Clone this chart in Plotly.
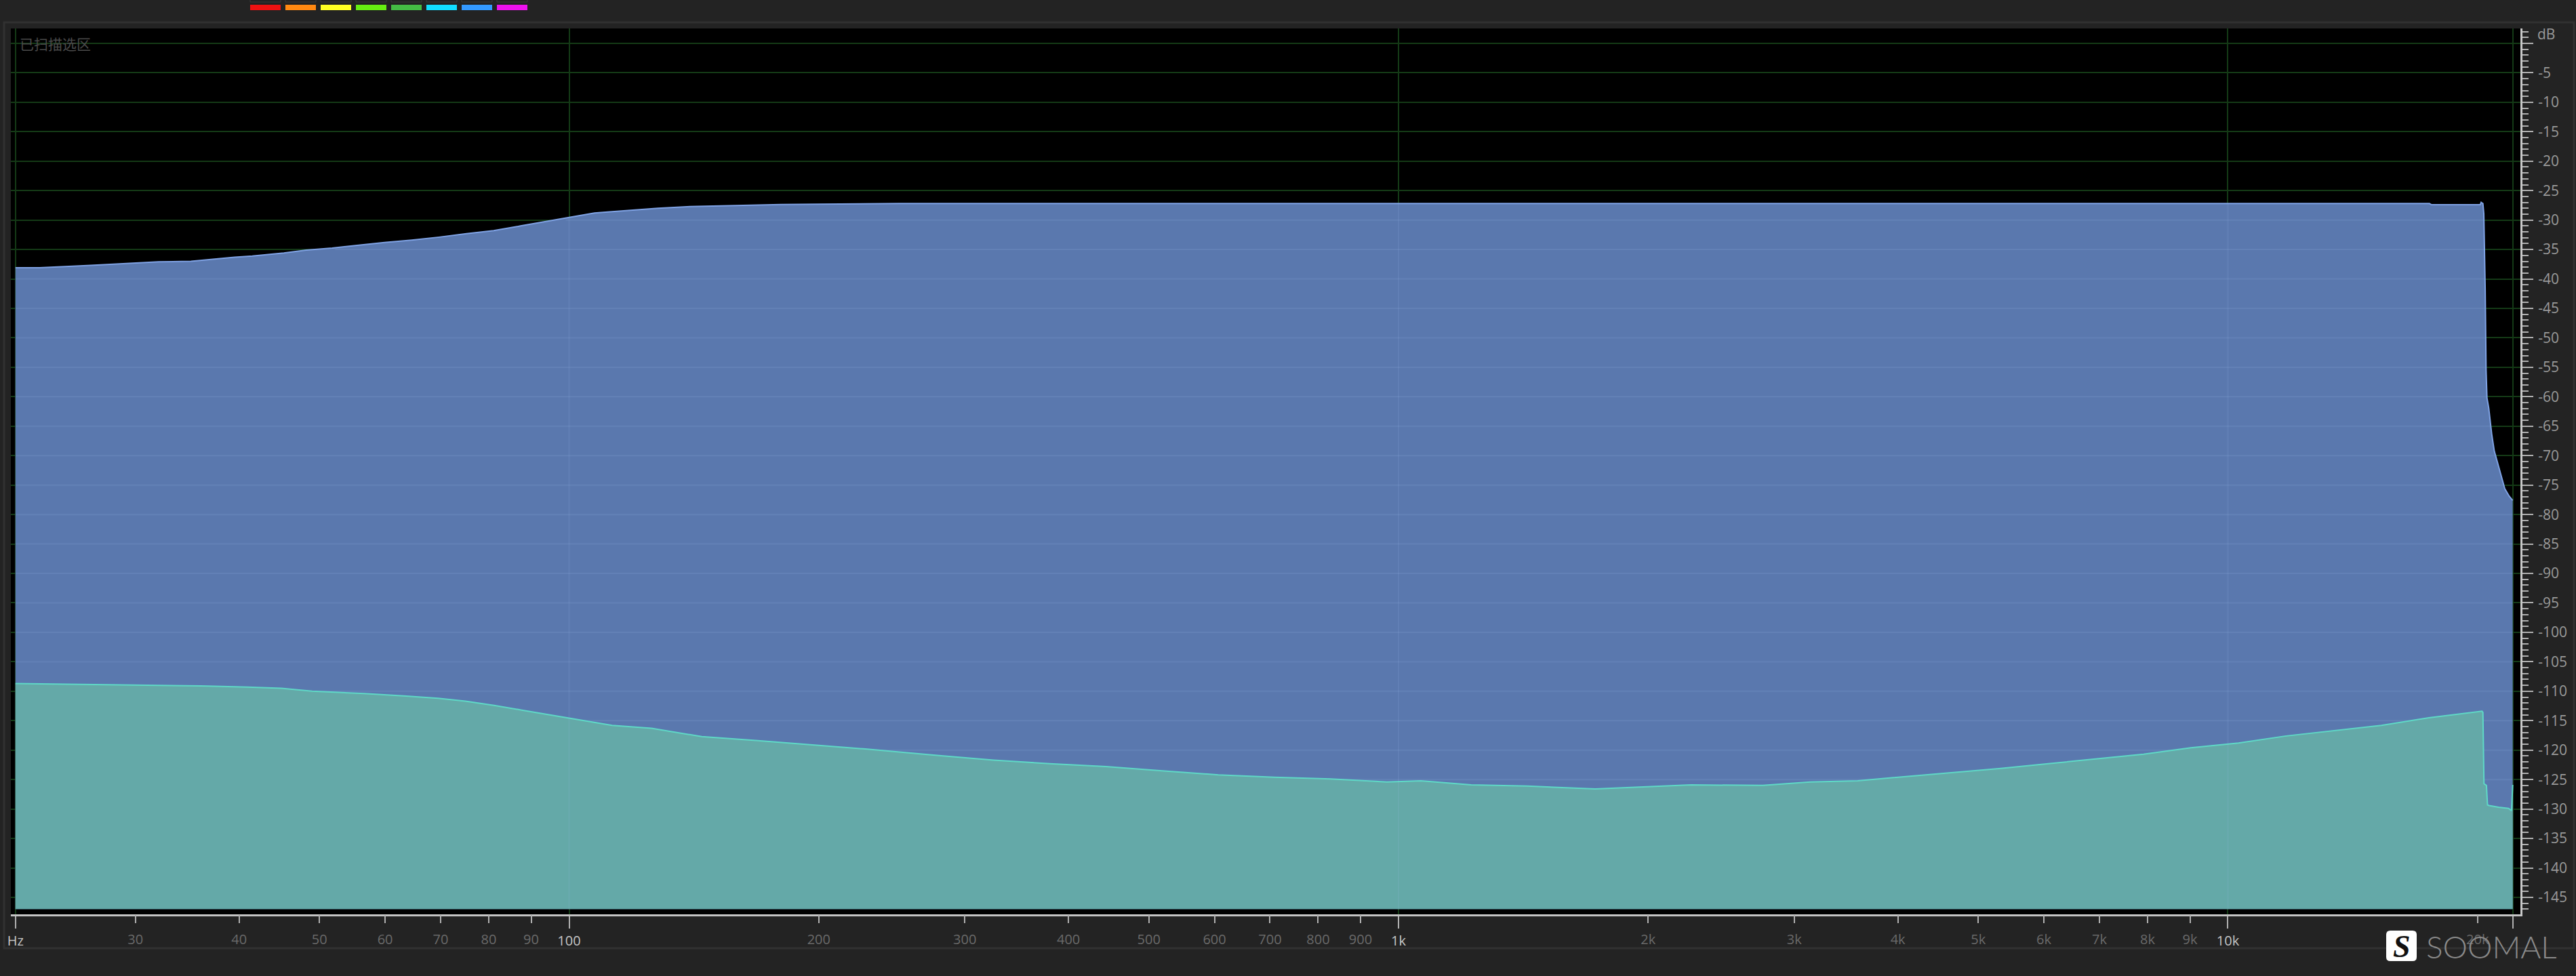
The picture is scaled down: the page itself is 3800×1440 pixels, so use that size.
import numpy as np
import plotly.graph_objects as go

# ---------------- data ----------------
sig_freq = [21.5, 23, 26.5, 29.3, 32, 35, 37.5, 39.5, 41.5, 43.5,
            45.3, 48.2, 51.8, 55.5, 59.9, 64.6, 69.7, 75.2, 81.1, 87.4,
            93.4, 99.5, 103.9, 107.3, 112, 120, 128, 140, 160, 180,
            200, 250, 500, 1000, 2000, 5000, 10000, 17500, 17600, 20150,
            20200, 20300, 20350, 20430, 20480, 20530, 20630, 20720, 20800, 20950,
            21180, 21380, 21570, 21840, 22050]
sig_db = [-38.1, -38.1, -37.7, -37.4, -37.1, -37.0, -36.6, -36.3, -36.1, -35.8,
          -35.6, -35.1, -34.75, -34.3, -33.8, -33.4, -32.9, -32.3, -31.8, -31.0,
          -30.3, -29.65, -29.15, -28.8, -28.6, -28.3, -28.0, -27.7, -27.5, -27.35,
          -27.3, -27.2, -27.2, -27.2, -27.2, -27.2, -27.2, -27.2, -27.4, -27.4,
          -27.0, -27.2, -28.9, -41.9, -55.5, -60.2, -61.9, -64.6, -66.3, -69.2,
          -71.6, -73.8, -75.6, -76.9, -77.6]

noise_freq = [21.5, 25, 30, 36, 41, 45, 49, 56.6, 63.2, 69.5,
              75, 81.2, 87.7, 94.9, 102.6, 112.7, 125.7, 144.5, 169, 197.6,
              227.6, 277.8, 324.9, 379.8, 443.9, 518.6, 606.4, 708.5, 828, 968,
              1064, 1224, 1431, 1727, 1955, 2252, 2749, 3136, 3578, 4083,
              4665, 5322, 6074, 6935, 7911, 9024, 10300, 11750, 13420, 15310,
              17470, 19930, 20250, 20300, 20360, 20500, 20560, 20650, 21200, 21800,
              21980, 22050]
noise_db = [-108.7, -108.8, -108.9, -109.1, -109.3, -109.5, -110.0, -110.4, -110.8, -111.2,
            -111.7, -112.4, -113.2, -114.0, -114.8, -115.8, -116.3, -117.7, -118.4, -119.1,
            -119.8, -120.9, -121.7, -122.3, -122.8, -123.5, -124.2, -124.6, -124.9, -125.4,
            -125.2, -125.9, -126.1, -126.6, -126.3, -125.9, -126.0, -125.4, -125.2, -124.5,
            -123.8, -123.1, -122.3, -121.5, -120.7, -119.6, -118.8, -117.6, -116.7, -115.8,
            -114.5, -113.5, -113.4, -113.6, -125.7, -126.0, -129.3, -129.4, -129.7, -129.9,
            -130.3, -125.9]

floor_db = -147.0

major_x_vals = [21.5, 100, 1000, 10000, 22050]
major_x_text = ["Hz", "100", "1k", "10k", ""]
minor_x_vals = [30, 40, 50, 60, 70, 80, 90,
                200, 300, 400, 500, 600, 700, 800, 900,
                2000, 3000, 4000, 5000, 6000, 7000, 8000, 9000, 20000]
minor_x_text = ["30", "40", "50", "60", "70", "80", "90",
                "200", "300", "400", "500", "600", "700", "800", "900",
                "2k", "3k", "4k", "5k", "6k", "7k", "8k", "9k", "20k"]
y_tick_vals = list(range(0, -150, -5))
y_tick_text = [""] + ["-%d" % (-v) for v in y_tick_vals[1:]]

x_range_log = [1.3269, 4.3527]
y_range = [-147.88, 2.53]

# ---------------- geometry helpers (pixel -> paper) ----------------
W, H = 3800, 1440
PL, PR, PT, PB = 16, 3718, 42, 1349


def px(x):
    return (x - PL) / (PR - PL)


def py(y):
    return (PB - y) / (PB - PT)


BLUE_FILL = "#5a78ae"
BLUE_EDGE = "#7fa2e4"
TEAL_FILL = "#64a9a8"
TEAL_EDGE = "#5fd8c6"
GRID = "#143a16"
FAINT = "rgba(165,195,245,0.12)"
TICK = "#b0b0b0"

fig = go.Figure()

# baseline + signal spectrum
fig.add_trace(go.Scatter(x=sig_freq, y=[floor_db] * len(sig_freq), mode="lines",
                         line=dict(width=0, color="rgba(0,0,0,0)"), hoverinfo="skip",
                         showlegend=False))
fig.add_trace(go.Scatter(x=sig_freq, y=sig_db, mode="lines", fill="tonexty",
                         fillcolor=BLUE_FILL, line=dict(color=BLUE_EDGE, width=2),
                         hoverinfo="skip", showlegend=False))

# faint grid lines visible over the blue fill (derived from data + tick levels)
lx = np.linspace(np.log10(sig_freq[0]), np.log10(sig_freq[-1]), 6000)
yb = np.interp(lx, np.log10(sig_freq), sig_db)
hx, hy = [], []
for lvl in y_tick_vals:
    mask = yb > lvl + 0.3
    if not mask.any():
        continue
    idx = np.where(mask)[0]
    splits = np.where(np.diff(idx) > 1)[0]
    starts = np.concatenate([[idx[0]], idx[splits + 1]])
    ends = np.concatenate([idx[splits], [idx[-1]]])
    for s, e in zip(starts, ends):
        hx += [10 ** lx[s], 10 ** lx[e], None]
        hy += [lvl, lvl, None]
fig.add_trace(go.Scatter(x=hx, y=hy, mode="lines", line=dict(color=FAINT, width=2),
                         hoverinfo="skip", showlegend=False, connectgaps=False))

# baseline + noise spectrum
fig.add_trace(go.Scatter(x=noise_freq, y=[floor_db] * len(noise_freq), mode="lines",
                         line=dict(width=0, color="rgba(0,0,0,0)"), hoverinfo="skip",
                         showlegend=False))
fig.add_trace(go.Scatter(x=noise_freq, y=noise_db, mode="lines", fill="tonexty",
                         fillcolor=TEAL_FILL, line=dict(color=TEAL_EDGE, width=2),
                         hoverinfo="skip", showlegend=False))

# faint vertical decade lines inside the fills
vx, vy = [], []
for f in major_x_vals[1:4]:
    top = float(np.interp(np.log10(f), np.log10(sig_freq), sig_db))
    vx += [f, f, None]
    vy += [floor_db, top, None]
fig.add_trace(go.Scatter(x=vx, y=vy, mode="lines", line=dict(color="rgba(165,195,245,0.10)", width=2),
                         hoverinfo="skip", showlegend=False))

# empty trace so the overlay axis is created
fig.add_trace(go.Scatter(x=[], y=[], xaxis="x2", yaxis="y", showlegend=False))

tick_font = dict(family="Open Sans, Noto Sans, sans-serif", size=20)

fig.update_layout(
    width=W, height=H,
    margin=dict(l=PL, r=W - PR, t=PT, b=H - PB, pad=0),
    paper_bgcolor="#232323",
    plot_bgcolor="#000000",
    showlegend=False,
    hovermode=False,
    xaxis=dict(type="log", range=x_range_log, tickmode="array",
               tickvals=major_x_vals, ticktext=major_x_text,
               ticks="outside", ticklen=18, tickwidth=2, tickcolor=TICK,
               showline=True, linecolor="#c4c4c4", linewidth=3,
               showgrid=True, gridcolor=GRID, gridwidth=2, zeroline=False,
               tickfont=dict(tick_font, color="#c6c6c6"), ticklabelstandoff=1),
    xaxis2=dict(type="log", range=x_range_log, overlaying="x", anchor="y", side="bottom",
                tickmode="array", tickvals=minor_x_vals, ticktext=minor_x_text,
                ticks="outside", ticklen=12, tickwidth=2, tickcolor=TICK,
                showline=False, showgrid=False, zeroline=False,
                tickfont=dict(tick_font, color="#6a6a6a"), ticklabelstandoff=7),
    yaxis=dict(side="right", range=y_range, tickmode="array",
               tickvals=y_tick_vals, ticktext=y_tick_text,
               ticks="outside", ticklen=16, tickwidth=2, tickcolor=TICK,
               showline=True, linecolor="#c8c8c8", linewidth=3,
               showgrid=True, gridcolor=GRID, gridwidth=2, zeroline=False,
               minor=dict(dtick=1, tick0=0, ticks="outside", ticklen=9, tickwidth=2,
                          tickcolor=TICK, showgrid=False),
               tickfont=dict(family="Open Sans, Noto Sans, sans-serif", size=21, color="#9a9a9a"),
               ticklabelstandoff=3),
)

shapes = []
# panel border
shapes.append(dict(type="rect", xref="paper", yref="paper",
                   x0=px(6), x1=px(3797), y0=py(1399), y1=py(33),
                   line=dict(color="#313131", width=3), fillcolor="rgba(0,0,0,0)", layer="below"))
# colour swatches in the top bar
swatch_colors = ["#ee1111", "#ff8811", "#ffff22", "#66ee11", "#44bb44", "#11ddff", "#3399ff", "#ee11ee"]
for i, c in enumerate(swatch_colors):
    x0 = 369 + i * 52
    shapes.append(dict(type="rect", xref="paper", yref="paper",
                       x0=px(x0), x1=px(x0 + 45), y0=py(15), y1=py(7),
                       line=dict(width=0), fillcolor=c))
    shapes.append(dict(type="rect", xref="paper", yref="paper",
                       x0=px(x0), x1=px(x0 + 45), y0=py(3), y1=py(-4),
                       line=dict(color="#3a3a3a", width=1), fillcolor="rgba(0,0,0,0)"))
# logo badge (rounded white square)
bx0, bx1, by0, by1, r = 3520, 3565, 1373, 1418, 6
path = ("M {a},{b} L {c},{b} Q {d},{b} {d},{e} L {d},{f} Q {d},{g} {c},{g} "
        "L {a},{g} Q {h},{g} {h},{f} L {h},{e} Q {h},{b} {a},{b} Z").format(
    a=px(bx0 + r), b=py(by0), c=px(bx1 - r), d=px(bx1), e=py(by0 + r),
    f=py(by1 - r), g=py(by1), h=px(bx0))
shapes.append(dict(type="path", xref="paper", yref="paper", path=path,
                   fillcolor="#ffffff", line=dict(width=0)))
fig.update_layout(shapes=shapes)

annotations = [
    dict(text="已扫描选区", xref="paper", yref="paper", x=px(27), y=py(64),
         xanchor="left", yanchor="middle", showarrow=False,
         font=dict(family="Noto Sans CJK SC", size=21, color="#4a4a4a")),
    dict(text="dB", xref="paper", yref="paper", x=px(3741), y=py(50),
         xanchor="left", yanchor="middle", showarrow=False,
         font=dict(family="Open Sans, Noto Sans, sans-serif", size=21, color="#9a9a9a")),
    dict(text="S", xref="paper", yref="paper", x=px(3542.5), y=py(1396),
         xanchor="center", yanchor="middle", showarrow=False,
         font=dict(family="Liberation Serif", size=46, color="#111111", weight="bold", style="italic")),
    dict(text="SOOMAL", xref="paper", yref="paper", x=px(3577), y=py(1396),
         xanchor="left", yanchor="middle", showarrow=False,
         font=dict(family="Lato, Open Sans, sans-serif", size=46, color="#8a8a8a", weight=300)),
]
fig.update_layout(annotations=annotations)

fig.write_html("out.html", config={"displayModeBar": False},
               post_script="document.body.style.margin='0';")
